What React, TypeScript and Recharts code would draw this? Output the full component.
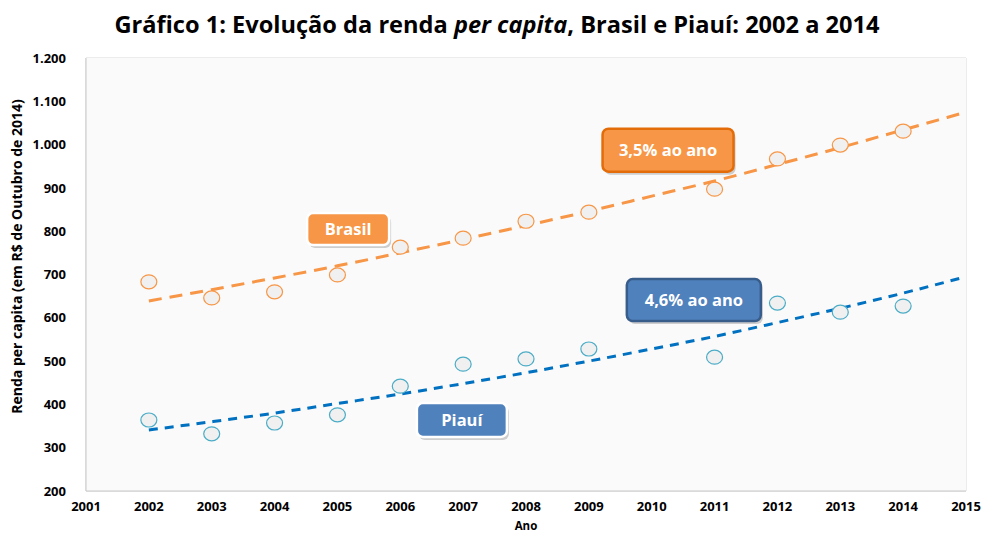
import React from "react"
import {
  ComposedChart,
  Line,
  Scatter,
  XAxis,
  YAxis,
  CartesianGrid,
  ReferenceDot,
  Label,
} from "recharts"

const anos = [2002, 2003, 2004, 2005, 2006, 2007, 2008, 2009, 2011, 2012, 2013, 2014]
const rendaBrasil = [683, 646, 660, 699, 763, 784, 823, 844, 897, 967, 999, 1031]
const rendaPiaui = [364, 332, 357, 376, 442, 493, 505, 528, 509, 634, 613, 627]

const anosTendencia = [2002, 2003, 2004, 2005, 2006, 2007, 2008, 2009, 2010, 2011, 2012, 2013, 2014, 2015]
const tendenciaBrasil = [639, 665, 692, 720, 750, 781, 813, 846, 881, 916, 954, 993, 1034, 1075]
const tendenciaPiaui = [341, 360, 380, 402, 424, 448, 473, 500, 528, 557, 589, 622, 657, 695]

const xTicks = [2001, 2002, 2003, 2004, 2005, 2006, 2007, 2008, 2009, 2010, 2011, 2012, 2013, 2014, 2015]
const yTicks = [200, 300, 400, 500, 600, 700, 800, 900, 1000, 1100, 1200]

const pontosBrasil = anos.map((ano, i) => ({ ano, renda: rendaBrasil[i] }))
const pontosPiaui = anos.map((ano, i) => ({ ano, renda: rendaPiaui[i] }))
const linhaBrasil = anosTendencia.map((ano, i) => ({ ano, tend: tendenciaBrasil[i] }))
const linhaPiaui = anosTendencia.map((ano, i) => ({ ano, tend: tendenciaPiaui[i] }))

const FONT = "'Open Sans', Lato, sans-serif"

const fmt = (v: number) => v.toLocaleString("pt-BR")

const circulo = (stroke: string) => (props: any) => (
  <ellipse cx={props.cx} cy={props.cy} rx={8} ry={7} fill="#f0f0f0" stroke={stroke} strokeWidth={1.2} />
)

// caixa de texto posicionada pelo ReferenceDot
const caixa = (texto: string, w: number, h: number, fill: string, borda: string, bw: number) => (props: any) => {
  const { cx, cy } = props
  return (
    <g>
      <rect x={cx - w / 2 + 2} y={cy - h / 2 + 3} width={w} height={h} rx={6} fill="rgba(0,0,0,0.18)" />
      <rect x={cx - w / 2} y={cy - h / 2} width={w} height={h} rx={6} fill={fill} stroke={borda} strokeWidth={bw} />
      <text x={cx} y={cy + 6} textAnchor="middle" fill="#fff" fontSize={16.5} fontWeight={700} fontFamily={FONT}>
        {texto}
      </text>
    </g>
  )
}

const tituloY = (props: any) => {
  const vb = props.viewBox || {}
  const cy = vb.y + vb.height / 2 - 18
  return (
    <text
      transform={`translate(22, ${cy}) rotate(-90)`}
      textAnchor="middle"
      fill="#000"
      fontSize={14}
      fontWeight={700}
      fontFamily={FONT}
    >
      Renda per capita (em R$ de Outubro de 2014)
    </text>
  )
}

export default function App() {
  return (
    <div style={{ position: "absolute", left: 0, top: 0, width: 984, height: 535, background: "#fff", overflow: "hidden" }}>
      <div
        style={{
          position: "absolute",
          top: 8,
          left: 0,
          width: 994,
          textAlign: "center",
          fontFamily: FONT,
          fontWeight: 700,
          fontSize: 23.6,
          color: "#000",
          lineHeight: "32px",
        }}
      >
        Gráfico 1: Evolução da renda <i>per capita</i>, Brasil e Piauí: 2002 a 2014
      </div>
      <ComposedChart width={984} height={535} margin={{ top: 58, right: 18, bottom: 14, left: 36 }}>
        <rect x={86} y={58} width={880} height={433} fill="#fafafa" />
        <CartesianGrid stroke="#d9d9d9" strokeWidth={1} />
        <XAxis
          type="number"
          dataKey="ano"
          domain={[2001, 2015]}
          ticks={xTicks}
          interval={0}
          height={30}
          tickLine={false}
          axisLine={{ stroke: "#c8c8c8" }}
          tick={{ fill: "#000", fontSize: 13, fontWeight: 700, fontFamily: FONT }}
          tickMargin={5}
        >
          <Label value="Ano" position="insideBottom" offset={-9} fill="#000" fontSize={11.5} fontWeight={700} fontFamily={FONT} />
        </XAxis>
        <YAxis
          type="number"
          domain={[200, 1200]}
          ticks={yTicks}
          interval={0}
          width={50}
          tickLine={false}
          axisLine={{ stroke: "#c8c8c8" }}
          tickFormatter={fmt}
          tick={{ fill: "#000", fontSize: 13, fontWeight: 700, fontFamily: FONT }}
          tickMargin={14}
        >
          <Label content={tituloY} />
        </YAxis>
        <Line
          data={linhaBrasil}
          dataKey="tend"
          type="monotone"
          stroke="#f79646"
          strokeWidth={3}
          strokeDasharray="13 8"
          dot={false}
          activeDot={false}
          isAnimationActive={false}
        />
        <Line
          data={linhaPiaui}
          dataKey="tend"
          type="monotone"
          stroke="#0070c0"
          strokeWidth={3}
          strokeDasharray="9 7"
          dot={false}
          activeDot={false}
          isAnimationActive={false}
        />
        <Scatter data={pontosBrasil} dataKey="renda" shape={circulo("#f79646")} isAnimationActive={false} />
        <Scatter data={pontosPiaui} dataKey="renda" shape={circulo("#4bacc6")} isAnimationActive={false} />
        <ReferenceDot x={2005.17} y={805} shape={caixa("Brasil", 82, 32, "#f79646", "#fff", 2.5)} />
        <ReferenceDot x={2010.26} y={987} shape={caixa("3,5% ao ano", 131, 43, "#f79646", "#e36c09", 2.5)} />
        <ReferenceDot x={2010.67} y={641} shape={caixa("4,6% ao ano", 134, 42, "#4f81bd", "#385d8a", 2.5)} />
        <ReferenceDot x={2006.98} y={364} shape={caixa("Piauí", 90, 34, "#4f81bd", "#fff", 2.5)} />
      </ComposedChart>
    </div>
  )
}
